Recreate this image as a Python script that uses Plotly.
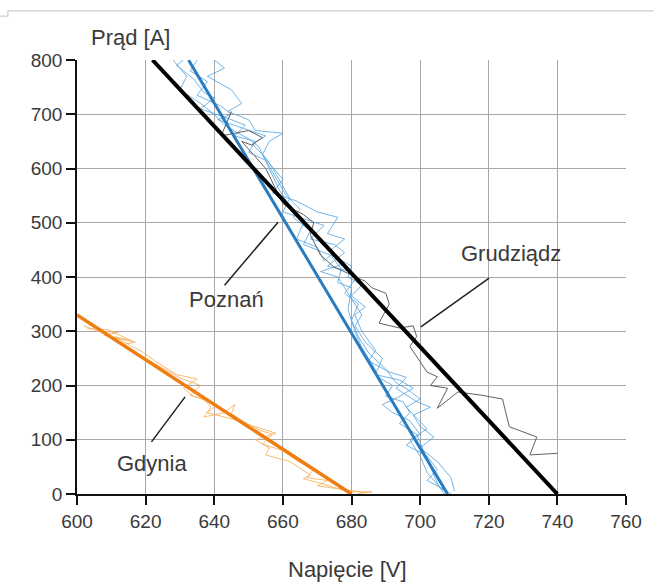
import plotly.graph_objects as go

# Fitted characteristics
grud_fit_x = [622, 740]
grud_fit_y = [800, 0]
pozn_fit_x = [632.5, 708]
pozn_fit_y = [800, 0]
gdy_fit_x = [600, 680]
gdy_fit_y = [330, 0]

# Measured (noisy) traces - Grudziądz
grud_x = [645, 642, 650, 654, 651, 648, 655, 660, 666, 669, 668, 671, 675, 678, 680, 684, 686, 690, 691, 688,
          694, 698, 699, 697, 702, 705, 703, 708, 705, 711, 718, 724, 726, 734, 732, 740]
grud_y = [705, 660, 670, 657, 643, 650, 600, 535, 515, 500, 478, 440, 418, 410, 404, 392, 380, 370, 350, 315,
          306, 310, 290, 272, 225, 216, 200, 195, 158, 188, 182, 175, 124, 105, 72, 75]

# Measured traces - Poznań
pz1_x = [628, 632, 630, 636, 640, 643, 647, 650, 653, 656, 659, 662, 666, 664, 670, 672, 674, 677, 676, 680, 679,
         681, 683, 686, 688, 692, 690, 695, 697, 694, 699, 701, 703, 705, 707]
pz1_y = [800, 770, 745, 720, 700, 680, 665, 655, 640, 600, 560, 530, 500, 470, 455, 430, 440, 415, 390, 380, 340,
         300, 270, 240, 215, 200, 180, 170, 150, 130, 110, 80, 50, 20, 0]
pz2_x = [635, 633, 638, 635, 642, 645, 641, 648, 655, 651, 655, 658, 662, 660, 667, 672, 668, 675, 678, 673, 680,
         681, 678, 682, 680, 682, 685, 690, 693, 697, 700, 696, 699, 702, 697, 700, 702, 706, 709]
pz2_y = [800, 780, 760, 735, 715, 700, 690, 675, 660, 645, 620, 590, 545, 520, 505, 495, 470, 460, 445, 420, 410,
         395, 370, 350, 320, 290, 260, 230, 205, 190, 175, 160, 140, 120, 100, 70, 40, 10, 0]
pz3_x = [640, 643, 638, 645, 648, 644, 650, 652, 660, 656, 654, 660, 657, 664, 670, 676, 673, 678, 674, 678, 671,
         676, 680, 683, 681, 684, 689, 687, 694, 698, 694, 689, 692, 697, 700, 696, 702, 705, 702, 708]
pz3_y = [800, 785, 770, 745, 720, 705, 690, 670, 665, 650, 625, 580, 555, 540, 520, 510, 480, 470, 450, 425, 410,
         400, 360, 330, 310, 280, 250, 220, 210, 195, 180, 165, 150, 135, 110, 90, 70, 45, 25, 5]
pz4_x = [631, 629, 634, 637, 640, 636, 645, 649, 646, 652, 650, 655, 661, 665, 663, 668, 666, 672, 676, 680, 679,
         683, 680, 684, 681, 683, 687, 685, 691, 696, 693, 699, 703, 698, 700, 704, 700, 705, 709, 710]
pz4_y = [800, 790, 765, 740, 730, 710, 690, 680, 660, 650, 630, 615, 550, 525, 510, 485, 460, 445, 435, 420, 400,
         385, 365, 345, 330, 300, 265, 245, 225, 215, 195, 170, 160, 145, 125, 105, 85, 60, 30, 5]

# Measured traces - Gdynia
gd1_x = [602, 606, 612, 608, 617, 613, 620, 625, 630, 636, 633, 637, 639, 637, 643, 646, 645, 650, 658, 652, 656,
         655, 662, 668, 666, 672, 676, 680, 686, 682]
gd1_y = [310, 300, 298, 292, 280, 275, 250, 232, 214, 200, 182, 175, 160, 142, 150, 165, 148, 128, 112, 100, 85,
         72, 60, 35, 28, 18, 10, 4, 4, 1]
gd2_x = [603, 609, 616, 611, 619, 624, 629, 635, 631, 634, 641, 638, 644, 649, 653, 657, 654, 660, 664, 669, 667,
         673, 670, 679, 684]
gd2_y = [305, 303, 282, 290, 262, 240, 220, 212, 195, 180, 165, 150, 140, 132, 118, 110, 92, 80, 62, 45, 30, 25,
         15, 8, 3]

x_ticks = [600, 620, 640, 660, 680, 700, 720, 740, 760]
y_ticks = [0, 100, 200, 300, 400, 500, 600, 700, 800]

FONT = "Liberation Sans, Arial, sans-serif"
TXT = "#3a3a3a"

fig = go.Figure()

for xs, ys in [(gd1_x, gd1_y), (gd2_x, gd2_y)]:
    fig.add_trace(go.Scatter(x=xs, y=ys, mode="lines",
                             line=dict(color="rgba(248,175,90,0.85)", width=1)))
for xs, ys in [(pz1_x, pz1_y), (pz2_x, pz2_y), (pz3_x, pz3_y), (pz4_x, pz4_y)]:
    fig.add_trace(go.Scatter(x=xs, y=ys, mode="lines",
                             line=dict(color="rgba(80,162,225,0.8)", width=1)))
fig.add_trace(go.Scatter(x=grud_x, y=grud_y, mode="lines",
                         line=dict(color="#606060", width=1)))

fig.add_trace(go.Scatter(x=gdy_fit_x, y=gdy_fit_y, mode="lines",
                         line=dict(color="#ef7d10", width=3.5)))
fig.add_trace(go.Scatter(x=pozn_fit_x, y=pozn_fit_y, mode="lines",
                         line=dict(color="#2a7cc0", width=3)))
fig.add_trace(go.Scatter(x=grud_fit_x, y=grud_fit_y, mode="lines",
                         line=dict(color="#000000", width=4)))

axis_common = dict(
    showgrid=True, gridcolor="#a8a8a8", gridwidth=1.4,
    zeroline=False, showline=True, linecolor="#111111", linewidth=1.5,
    ticks="outside", ticklen=9, tickwidth=1.5, tickcolor="#111111",
    tickfont=dict(family=FONT, size=19, color=TXT),
)

fig.update_layout(
    width=654, height=583,
    margin=dict(l=77, r=23, t=60, b=89),
    paper_bgcolor="white", plot_bgcolor="white",
    showlegend=False,
    xaxis=dict(range=[600, 760], tickvals=x_ticks, ticktext=[str(v) for v in x_ticks], **axis_common),
    yaxis=dict(range=[0, 800], tickvals=y_ticks, ticktext=[str(v) for v in y_ticks], **axis_common),
    font=dict(family=FONT, color=TXT),
)

# axis titles
fig.add_annotation(text="Prąd [A]", xref="paper", yref="paper", x=0.022, y=1.052,
                   xanchor="left", yanchor="middle", showarrow=False,
                   font=dict(family=FONT, size=22, color=TXT))
fig.add_annotation(text="Napięcie [V]", xref="paper", yref="paper", x=0.492, y=-0.175,
                   xanchor="center", yanchor="middle", showarrow=False,
                   font=dict(family=FONT, size=22, color=TXT))

# series labels with pointer lines
labels = [("Grudziądz", 726.5, 444, 700.2, 308, 720.1, 398),
          ("Poznań", 643.6, 358, 643, 385, 658.6, 501),
          ("Gdynia", 621.8, 57, 621.7, 96, 631.5, 179)]
for txt, tx, ty, x0, y0, x1, y1 in labels:
    fig.add_annotation(text=txt, x=tx, y=ty, showarrow=False,
                       font=dict(family=FONT, size=22, color=TXT))
    fig.add_shape(type="line", x0=x0, y0=y0, x1=x1, y1=y1,
                  line=dict(color="#222222", width=1.5))

# page frame line at the top
fig.add_shape(type="line", xref="paper", yref="paper", x0=-0.126, y0=1.113, x1=1.05, y1=1.113,
              line=dict(color="#cccccc", width=1.2))
fig.add_shape(type="line", xref="paper", yref="paper", x0=-0.126, y0=1.113, x1=-0.126, y1=1.101,
              line=dict(color="#cccccc", width=1.2))
fig.add_shape(type="line", xref="paper", yref="paper", x0=-0.15, y0=1.101, x1=-0.126, y1=1.101,
              line=dict(color="#cccccc", width=1.2))

fig.write_html("out.html")
